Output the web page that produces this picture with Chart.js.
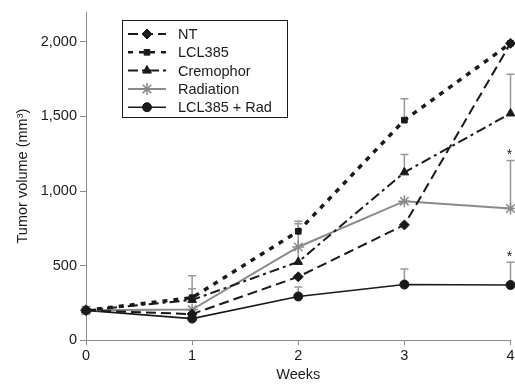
<!DOCTYPE html>
<html>
<head>
<meta charset="utf-8">
<script src="https://cdn.jsdelivr.net/npm/chart.js@4/dist/chart.umd.min.js"></script>
<style>
  html, body { margin: 0; padding: 0; background: #fff; overflow: hidden; }
  #outer { width: 515px; height: 384px; overflow: hidden; }
  #wrap { width: 518px; height: 384px; position: relative; }
</style>
</head>
<body>
<div id="outer"><div id="wrap"><canvas id="tumorChart"></canvas></div></div>
<script>
// --- datos ---
const weeks = ['0', '1', '2', '3', '4'];
const yTicks = [0, 500, 1000, 1500, 2000];

const ntValues = [200, 175, 425, 773, 1990];
const lclValues = [200, 285, 730, 1475, 1990];
const cremoValues = [200, 270, 525, 1125, 1520];
const radValues = [200, 205, 625, 932, 883];
const comboValues = [200, 145, 293, 373, 370];

// extremo superior de las barras de error (null = sin barra)
const ntErrTop = [null, null, null, null, null];
const lclErrTop = [null, 432, 797, 1618, null];
const cremoErrTop = [null, 345, 780, 1245, 1782];
const radErrTop = [null, null, null, null, 1205];
const comboErrTop = [null, 200, 356, 478, 523];

// asteriscos (significancia) en la semana 4
const starMarks = [null, null, null, null, '*'];

const FONT = "'Liberation Sans', Arial, sans-serif";
const BLACK = '#1a1a1a';
const GREY = '#8a8a8a';

const series = [
    { label: 'NT', data: ntValues, err: ntErrTop, color: BLACK, dash: [10, 5], width: 2, point: 'rectRot', radius: 5 },
    { label: 'LCL385', data: lclValues, err: lclErrTop, color: BLACK, dash: [5, 6], width: 3.5, point: 'rect', radius: 4 },
    { label: 'Cremophor', data: cremoValues, err: cremoErrTop, color: BLACK, dash: [10, 4, 3, 4], width: 2, point: 'triangle', radius: 5 },
    { label: 'Radiation', data: radValues, err: radErrTop, color: GREY, dash: [], width: 2, point: 'star', radius: 6, stars: starMarks },
    { label: 'LCL385 + Rad', data: comboValues, err: comboErrTop, color: BLACK, dash: [], width: 1.6, point: 'circle', radius: 4.5, stars: starMarks }
];

// --- barras de error (solo hacia arriba) ---
const errorBarsPlugin = {
    id: 'errorBars',
    beforeDatasetsDraw(chart) {
        const { ctx } = chart;
        const yScale = chart.scales.y;
        ctx.save();
        ctx.strokeStyle = '#999';
        ctx.lineWidth = 1.5;
        chart.data.datasets.forEach((ds, i) => {
            const meta = chart.getDatasetMeta(i);
            ds.errTop.forEach((top, j) => {
                if (top === null) return;
                const pt = meta.data[j];
                const yTop = yScale.getPixelForValue(top);
                ctx.beginPath();
                ctx.moveTo(pt.x, pt.y);
                ctx.lineTo(pt.x, yTop);
                ctx.moveTo(pt.x - 4, yTop);
                ctx.lineTo(pt.x + 4, yTop);
                ctx.stroke();
            });
        });
        ctx.restore();
    },
    afterDatasetsDraw(chart) {
        const { ctx } = chart;
        const yScale = chart.scales.y;
        ctx.save();
        ctx.fillStyle = BLACK;
        ctx.font = `14px ${FONT}`;
        ctx.textAlign = 'center';
        ctx.textBaseline = 'alphabetic';
        chart.data.datasets.forEach((ds, i) => {
            if (!ds.stars) return;
            const meta = chart.getDatasetMeta(i);
            ds.stars.forEach((s, j) => {
                if (!s) return;
                const pt = meta.data[j];
                const yTop = yScale.getPixelForValue(ds.errTop[j]);
                ctx.fillText(s, pt.x - 1, yTop - 1);
            });
        });
        ctx.restore();
    }
};

// --- leyenda con recuadro dentro del area del grafico ---
const boxLegendPlugin = {
    id: 'boxLegend',
    afterDraw(chart) {
        const { ctx } = chart;
        const x0 = 122, y0 = 20, w = 165, h = 97;
        ctx.save();
        ctx.fillStyle = '#fff';
        ctx.fillRect(x0, y0, w, h);
        ctx.strokeStyle = BLACK;
        ctx.lineWidth = 1;
        ctx.strokeRect(x0 + 0.5, y0 + 0.5, w, h);

        chart.data.datasets.forEach((ds, i) => {
            const y = y0 + 14 + i * 18.3;
            ctx.strokeStyle = ds.borderColor;
            ctx.lineWidth = Math.min(ds.borderWidth, 2.5);
            ctx.setLineDash(ds.borderDash);
            ctx.beginPath();
            ctx.moveTo(x0 + 6, y);
            ctx.lineTo(x0 + 44, y);
            ctx.stroke();
            ctx.setLineDash([]);
            ctx.fillStyle = ds.pointBackgroundColor;
            ctx.strokeStyle = ds.pointBorderColor;
            ctx.lineWidth = ds.pointBorderWidth;
            Chart.helpers.drawPoint(ctx, {
                pointStyle: ds.pointStyle,
                radius: ds.pointRadius,
                rotation: 0,
                borderWidth: ds.pointBorderWidth
            }, x0 + 25, y);
            ctx.fillStyle = BLACK;
            ctx.font = `14.5px ${FONT}`;
            ctx.textAlign = 'left';
            ctx.textBaseline = 'middle';
            ctx.fillText(ds.label, x0 + 56, y + 1);
        });
        ctx.restore();
    }
};

const datasets = series.map(s => ({
    label: s.label,
    data: s.data,
    errTop: s.err,
    stars: s.stars,
    borderColor: s.color,
    backgroundColor: s.color,
    borderDash: s.dash,
    borderWidth: s.width,
    pointStyle: s.point,
    pointRadius: s.radius,
    pointHoverRadius: s.radius,
    pointBorderWidth: s.point === 'star' ? 1.5 : 1,
    pointBorderColor: s.color,
    pointBackgroundColor: s.color,
    tension: 0,
    fill: false,
    clip: false
}));

new Chart(document.getElementById('tumorChart'), {
    type: 'line',
    data: { labels: weeks, datasets },
    options: {
        responsive: true,
        maintainAspectRatio: false,
        animation: false,
        layout: { padding: { top: 12, right: 0, left: 0, bottom: 0 } },
        plugins: {
            legend: { display: false },
            tooltip: { enabled: false }
        },
        scales: {
            x: {
                type: 'category',
                offset: false,
                border: { color: GREY, width: 1 },
                grid: { drawOnChartArea: false, drawTicks: true, tickLength: 5, color: GREY },
                ticks: { color: BLACK, font: { family: FONT, size: 14.5 }, padding: 2, maxRotation: 0 },
                title: { display: true, text: 'Weeks', color: BLACK, font: { family: FONT, size: 14.5 }, padding: { top: 0, bottom: 0 } }
            },
            y: {
                min: 0,
                max: 2200,
                border: { color: GREY, width: 1 },
                grid: { drawOnChartArea: false, drawTicks: true, tickLength: 6, color: GREY },
                afterBuildTicks: axis => { axis.ticks = yTicks.map(v => ({ value: v })); },
                afterFit: axis => { axis.width = 86; },
                ticks: {
                    color: BLACK,
                    font: { family: FONT, size: 14.5 },
                    padding: 3,
                    callback: v => v.toLocaleString('en-US')
                },
                title: { display: true, text: 'Tumor volume (mm³)', color: BLACK, font: { family: FONT, size: 14.5 }, padding: { top: 14, bottom: 0 } }
            }
        }
    },
    plugins: [errorBarsPlugin, boxLegendPlugin]
});
</script>
</body>
</html>
